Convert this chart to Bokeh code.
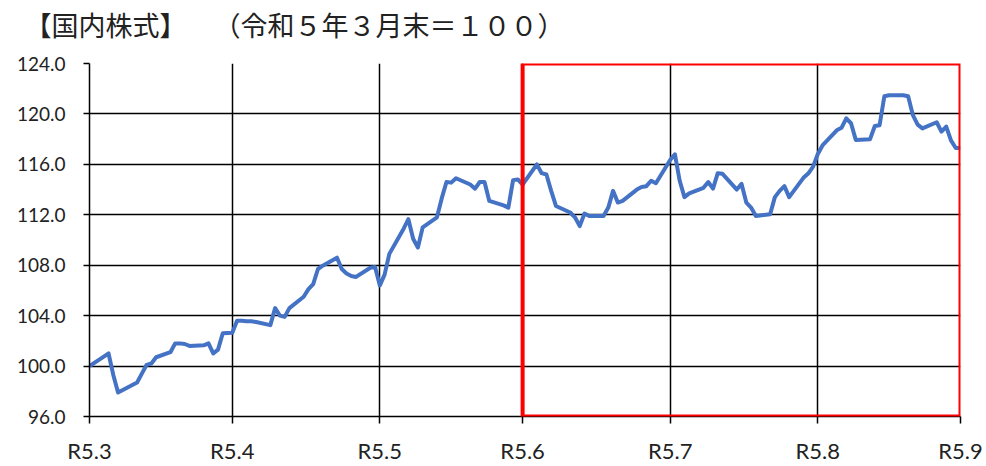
import pandas as pd
from bokeh.plotting import figure
from bokeh.models import Range1d, FixedTicker, BoxAnnotation, PrintfTickFormatter, Title
from bokeh.embed import file_html
from bokeh.resources import INLINE

title_text = "【国内株式】\u2003（令和５年３月末＝１００）"

dates = [
    "2023-03-31", "2023-04-03", "2023-04-04", "2023-04-05", "2023-04-06", "2023-04-07",
    "2023-04-10", "2023-04-11", "2023-04-12", "2023-04-13", "2023-04-14",
    "2023-04-17", "2023-04-18", "2023-04-19", "2023-04-20", "2023-04-21",
    "2023-04-24", "2023-04-25", "2023-04-26", "2023-04-27", "2023-04-28", "2023-04-30",
    "2023-05-01", "2023-05-02", "2023-05-03", "2023-05-04", "2023-05-05",
    "2023-05-08", "2023-05-09", "2023-05-10", "2023-05-11", "2023-05-12",
    "2023-05-15", "2023-05-16", "2023-05-17", "2023-05-18", "2023-05-19",
    "2023-05-22", "2023-05-23", "2023-05-24", "2023-05-25", "2023-05-26",
    "2023-05-29", "2023-05-30", "2023-05-31", "2023-06-01", "2023-06-02",
    "2023-06-05", "2023-06-06", "2023-06-07", "2023-06-08", "2023-06-09",
    "2023-06-12", "2023-06-13", "2023-06-14", "2023-06-15", "2023-06-16",
    "2023-06-19", "2023-06-20", "2023-06-21", "2023-06-22", "2023-06-23",
    "2023-06-26", "2023-06-27", "2023-06-28", "2023-06-29", "2023-06-30",
    "2023-07-03", "2023-07-04", "2023-07-05", "2023-07-06", "2023-07-07",
    "2023-07-10", "2023-07-11", "2023-07-12", "2023-07-13", "2023-07-14",
    "2023-07-17", "2023-07-18", "2023-07-19", "2023-07-20", "2023-07-21",
    "2023-07-24", "2023-07-25", "2023-07-26", "2023-07-27", "2023-07-28",
    "2023-07-31", "2023-08-01", "2023-08-02", "2023-08-03", "2023-08-04",
    "2023-08-07", "2023-08-08", "2023-08-09", "2023-08-10", "2023-08-11",
    "2023-08-14", "2023-08-15", "2023-08-16", "2023-08-17", "2023-08-18",
    "2023-08-21", "2023-08-22", "2023-08-23", "2023-08-24", "2023-08-25",
    "2023-08-28", "2023-08-29", "2023-08-30", "2023-08-31", "2023-09-01",
    "2023-09-04", "2023-09-05", "2023-09-06", "2023-09-07", "2023-09-08",
    "2023-09-11", "2023-09-12", "2023-09-13", "2023-09-14", "2023-09-15",
    "2023-09-18", "2023-09-19", "2023-09-20", "2023-09-21", "2023-09-22",
    "2023-09-25", "2023-09-26", "2023-09-27", "2023-09-28", "2023-09-29", "2023-09-30",
]

index_values = [
    100.0, 100.75, 101.0, 99.3, 97.9, 98.1,
    98.7, 99.4, 100.1, 100.2, 100.7,
    101.1, 101.8, 101.8, 101.75, 101.6,
    101.65, 101.8, 101.0, 101.3, 102.6, 102.65,
    103.6, 103.6, 103.55, 103.55, 103.5,
    103.25, 104.6, 104.0, 103.9, 104.6,
    105.5, 106.1, 106.5, 107.7, 107.96,
    108.6, 107.7, 107.35, 107.15, 107.07,
    107.8, 107.85, 106.4, 107.25, 108.9,
    110.9, 111.65, 110.1, 109.4, 111.0,
    111.8, 113.3, 114.6, 114.55, 114.9,
    114.4, 114.07, 114.6, 114.6, 113.1,
    112.75, 112.57, 114.75, 114.8, 114.4,
    116.0, 115.3, 115.2, 113.9, 112.7,
    112.18, 111.8, 111.1, 112.1, 111.9,
    111.9, 112.57, 113.9, 112.97, 113.1,
    114.0, 114.2, 114.27, 114.7, 114.5,
    116.35, 116.8, 114.7, 113.4, 113.7,
    114.14, 114.6, 114.07, 115.3, 115.25,
    114.0, 114.45, 112.97, 112.57, 111.9,
    112.04, 113.4, 113.9, 114.27, 113.4,
    114.93, 115.27, 115.8, 116.8, 117.5,
    118.7, 118.9, 119.65, 119.26, 117.94,
    118.0, 119.04, 119.1, 121.4, 121.48,
    121.48, 121.4, 119.9, 119.15, 118.85,
    119.34, 118.6, 119.0, 117.9, 117.3, 117.3,
]

tick_dates = ["2023-03-31", "2023-04-30", "2023-05-31", "2023-06-30",
              "2023-07-31", "2023-08-31", "2023-09-30"]
tick_labels = ["R5.3", "R5.4", "R5.5", "R5.6", "R5.7", "R5.8", "R5.9"]
y_ticks = [96, 100, 104, 108, 112, 116, 120, 124]
highlight_start = "2023-06-30"
highlight_end = "2023-09-30"

base = pd.Timestamp(tick_dates[0])
def day_of(d):
    return (pd.Timestamp(d) - base).days

xs = [day_of(d) for d in dates]
x_ticks = [day_of(d) for d in tick_dates]

p = figure(width=986, height=466, output_backend="svg", toolbar_location=None,
           x_range=Range1d(x_ticks[0], x_ticks[-1]), y_range=Range1d(y_ticks[0], y_ticks[-1]),
           min_border_left=89, min_border_right=26, min_border_top=63, min_border_bottom=47,
           title=None)
p.outline_line_color = None
p.background_fill_color = "white"

# spacer between the title and the plot frame
spacer = Title(text=" ", text_font="Noto Sans CJK JP", text_font_size="13px", standoff=0)
p.add_layout(spacer, "above")
title = Title(text=title_text, align="left", offset=-65, standoff=-3,
              text_font="Noto Sans CJK JP", text_font_size="27px",
              text_font_style="normal", text_color="#222222")
p.add_layout(title, "above")

p.line(xs, index_values, line_color="#4472C4", line_width=4, line_join="round")

p.xaxis.ticker = FixedTicker(ticks=x_ticks)
p.xaxis.major_label_overrides = {t: l for t, l in zip(x_ticks, tick_labels)}
p.yaxis.ticker = FixedTicker(ticks=y_ticks)
p.yaxis.formatter = PrintfTickFormatter(format="%.1f")
p.xgrid.ticker = FixedTicker(ticks=x_ticks)
p.ygrid.ticker = FixedTicker(ticks=y_ticks)
for g in (p.xgrid, p.ygrid):
    g.grid_line_color = "#000000"
    g.grid_line_width = 1.5

for ax in (p.xaxis, p.yaxis):
    ax.axis_line_color = "#000000"
    ax.axis_line_width = 1.5
    ax.major_tick_line_color = "#000000"
    ax.major_tick_line_width = 1.5
    ax.minor_tick_line_color = None
    ax.major_tick_in = 0
    ax.major_label_text_color = "#222222"
    ax.major_label_text_font = "Lato"

p.xaxis.major_tick_out = 7
p.xaxis.major_label_standoff = 13
p.xaxis.major_label_text_font_size = "22px"
p.yaxis.major_tick_out = 6
p.yaxis.major_label_standoff = 18
p.yaxis.major_label_text_font_size = "19px"

box = BoxAnnotation(left=day_of(highlight_start), right=day_of(highlight_end),
                    bottom=y_ticks[0], top=y_ticks[-1],
                    fill_alpha=0, line_color="#FF0000", line_alpha=1.0, line_width=4)
p.add_layout(box)

open("out.html", "w").write(file_html(p, INLINE))
